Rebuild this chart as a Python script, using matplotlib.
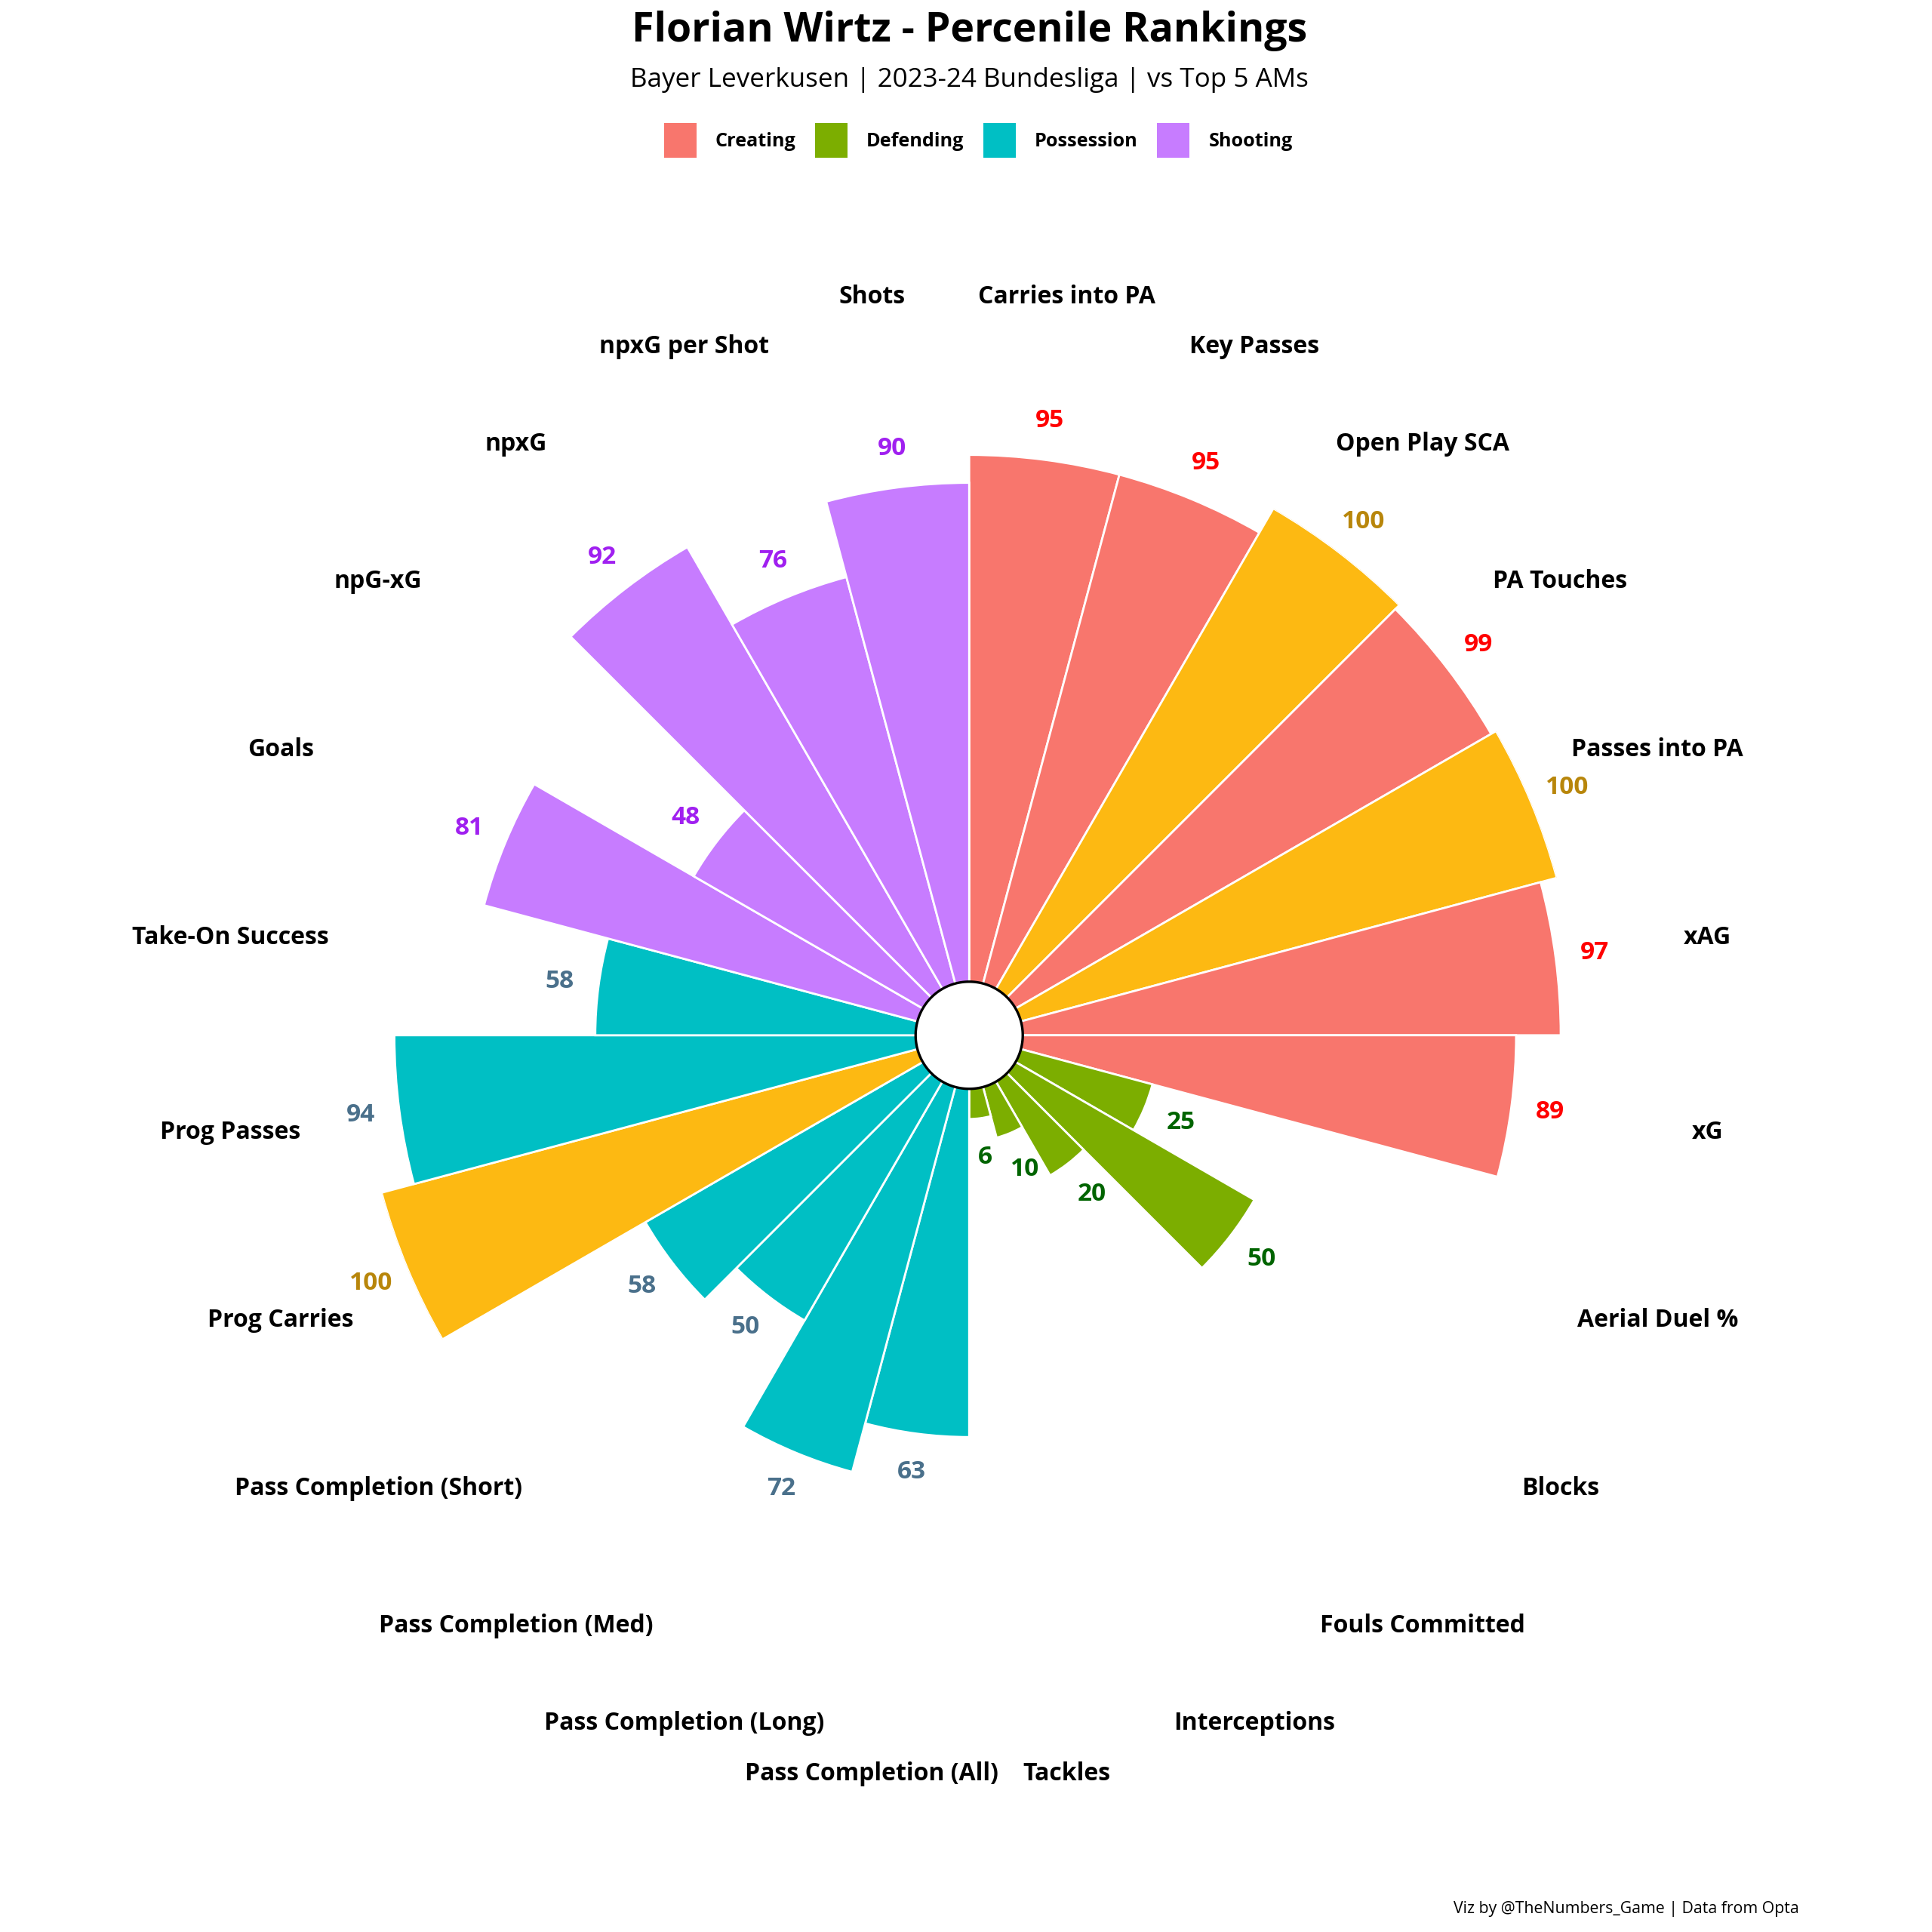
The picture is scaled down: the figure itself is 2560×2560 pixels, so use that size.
import numpy as np
import matplotlib
matplotlib.use("Agg")
import matplotlib.pyplot as plt
from matplotlib.patches import Patch

plt.rcParams["font.family"] = ["Open Sans", "DejaVu Sans"]

# clockwise from 12 o'clock
metrics = [
    "Carries into PA", "Key Passes", "Open Play SCA", "PA Touches", "Passes into PA", "xAG", "xG",
    "Aerial Duel %", "Blocks", "Fouls Committed", "Interceptions", "Tackles",
    "Pass Completion (All)", "Pass Completion (Long)", "Pass Completion (Med)",
    "Pass Completion (Short)", "Prog Carries", "Prog Passes", "Take-On Success",
    "Goals", "npG-xG", "npxG", "npxG per Shot", "Shots",
]
values = [95, 95, 100, 99, 100, 97, 89,
          25, 50, 20, 10, 6,
          63, 72, 50, 58, 100, 94, 58,
          81, 48, 92, 76, 90]
groups = ["Creating"] * 7 + ["Defending"] * 5 + ["Possession"] * 7 + ["Shooting"] * 5

group_colors = {"Creating": "#F8766D", "Defending": "#7CAE00",
                "Possession": "#00BFC4", "Shooting": "#C77CFF"}
label_colors = {"Creating": "#FF0000", "Defending": "#006400",
                "Possession": "#4A708B", "Shooting": "#A020F0"}
top_color = "#FDB912"
top_label_color = "#B8860B"

n = len(metrics)
width = 2 * np.pi / n
theta = np.arange(n) * width + width / 2

bar_colors = [top_color if v == 100 else group_colors[g] for v, g in zip(values, groups)]
text_colors = [top_label_color if v == 100 else label_colors[g] for v, g in zip(values, groups)]

fig = plt.figure(figsize=(12.8, 12.8), dpi=200)
ax = fig.add_axes([0.1868, 0.1493, 0.6297, 0.6297], projection="polar")
ax.set_theta_zero_location("N")
ax.set_theta_direction(-1)

ax.bar(theta, values, width=width, bottom=0, color=bar_colors,
       edgecolor="white", linewidth=1.0, zorder=2)

# centre hole
ring = np.linspace(0, 2 * np.pi, 200)
ax.fill(ring, np.full_like(ring, 0.6), facecolor="white", edgecolor="black",
        linewidth=1.2, zorder=3)

for t, v, c in zip(theta, values, text_colors):
    ax.text(t, v + 7, str(v), color=c, fontsize=12, fontweight="bold",
            ha="center", va="center")

for t, m in zip(theta, metrics):
    ax.text(t, 124.5, m, color="black", fontsize=11.5, fontweight="bold",
            ha="center", va="center")

ax.set_ylim(-9, 100)
ax.axis("off")

fig.text(0.5016, 1 - 55 / 2560, "Florian Wirtz - Percenile Rankings",
         fontsize=19.3, fontweight="bold", ha="center", va="baseline")
fig.text(0.5016, 1 - 115 / 2560, "Bayer Leverkusen | 2023-24 Bundesliga | vs Top 5 AMs",
         fontsize=12.6, ha="center", va="baseline")

handles = [Patch(facecolor=group_colors[g], edgecolor="none") for g in group_colors]
fig.legend(handles, list(group_colors), loc="center", ncol=4,
           bbox_to_anchor=(0.5063, 1 - 186 / 2560), frameon=False,
           prop={"size": 9.1, "weight": "bold"},
           handlelength=1.7, handleheight=2.4, handletextpad=1.0, columnspacing=1.0)

fig.text(2384 / 2560, 1 - 2535 / 2560, "Viz by @TheNumbers_Game | Data from Opta",
         fontsize=7.65, ha="right", va="baseline")

fig.savefig("out.png", dpi=200, facecolor="white")
plt.close(fig)
